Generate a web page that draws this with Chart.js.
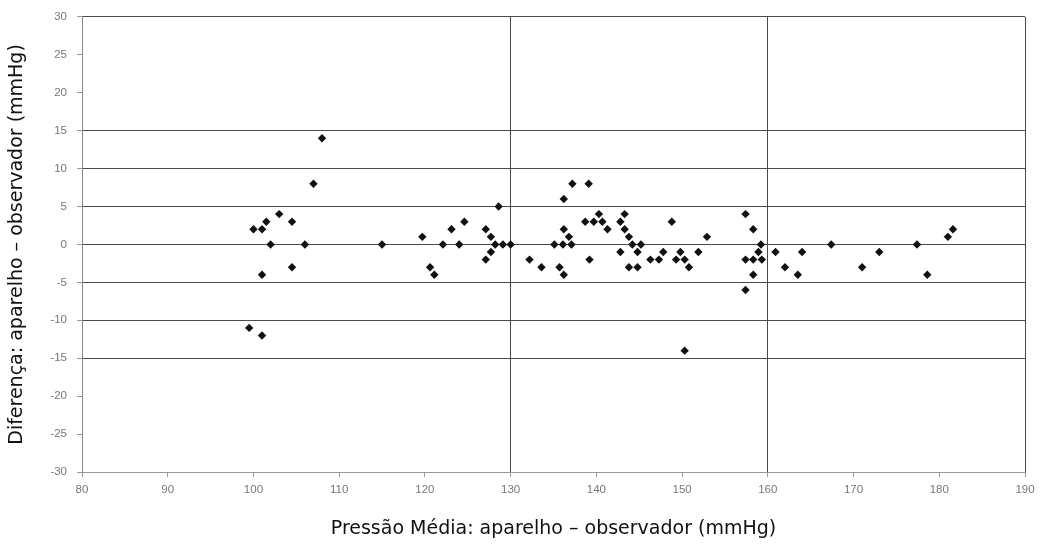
<!DOCTYPE html>
<html>
<head>
<meta charset="utf-8">
<script src="https://cdn.jsdelivr.net/npm/chart.js@4"></script>
<style>
  html, body { margin: 0; padding: 0; background: #fff; }
  #wrap { width: 1045px; height: 545px; }
</style>
</head>
<body>
<div id="wrap"><canvas id="chartCanvas" width="1045" height="545"></canvas></div>
<script>
// Pressão média (eixo x) e diferença aparelho - observador (eixo y)
const meanPressure = [
  99.5, 100, 101, 101, 101, 101.5, 102, 103, 104.5, 104.5, 106, 107, 108, 115,
  119.7, 120.6, 121.1, 122.1, 123.1, 124, 124.6, 127.1, 127.7, 128.2, 127.7, 127.1, 128.6, 129.1, 130, 132.2, 133.6,
  135.1, 136.1, 137.1, 136.2, 137.2, 139.1, 136.2, 136.8, 135.7, 136.2, 138.7, 139.2, 139.7, 140.3, 140.7, 141.3,
  142.8, 143.3, 143.3, 143.8, 144.2, 145.2, 142.8, 144.8, 143.8, 144.8, 146.3, 147.3, 147.8, 148.8, 149.3, 149.8,
  150.3, 150.8, 150.3, 151.9, 152.9,
  157.4, 158.3, 159.2, 158.9, 157.4, 158.3, 159.3, 158.3, 157.4, 160.9, 162, 163.5, 164,
  167.4, 171, 173, 177.4, 178.6, 181, 181.6
];
const difference = [
  -11, 2, 2, -4, -12, 3, 0, 4, 3, -3, 0, 8, 14, 0,
  1, -3, -4, 0, 2, 0, 3, 2, 1, 0, -1, -2, 5, 0, 0, -2, -3,
  0, 0, 0, 6, 8, 8, 2, 1, -3, -4, 3, -2, 3, 4, 3, 2,
  3, 4, 2, 1, 0, 0, -1, -1, -3, -3, -2, -2, -1, 3, -2, -1,
  -2, -3, -14, -1, 1,
  4, 2, 0, -1, -2, -2, -2, -4, -6, -1, -3, -4, -1,
  0, -3, -1, 0, -4, 1, 2
];

const xTitle = "Pressão Média: aparelho – observador (mmHg)";
const yTitle = "Diferença: aparelho – observador (mmHg)";

// linhas horizontais visíveis e linhas verticais visíveis
const yLines = [-15, -10, -5, 0, 5, 10, 15, 30];
const xLines = [130, 160, 190];

const points = meanPressure.map((x, i) => ({ x: x, y: difference[i] }));

const chart = new Chart(document.getElementById("chartCanvas"), {
  type: "scatter",
  data: {
    datasets: [{
      data: points,
      pointStyle: "rectRot",
      pointRadius: 4.2,
      backgroundColor: "#111",
      borderColor: "#111",
      borderWidth: 0
    }]
  },
  options: {
    responsive: false,
    animation: false,
    layout: { padding: { top: 14, right: 20, left: 0, bottom: 0 } },
    plugins: { legend: { display: false }, tooltip: { enabled: false } },
    scales: {
      x: {
        type: "linear",
        min: 80,
        max: 190,
        ticks: {
          stepSize: 10,
          padding: 6,
          color: "#777",
          font: { family: "Liberation Sans", size: 11.5 }
        },
        grid: {
          color: ctx => xLines.includes(ctx.tick.value) ? "#4a4a4a" : "rgba(0,0,0,0)",
          tickColor: "#999",
          tickLength: 5,
          lineWidth: 1
        },
        border: { color: "#999" },
        title: {
          display: true,
          text: xTitle,
          color: "#111",
          font: { family: "DejaVu Sans", size: 19 },
          padding: { top: 6, bottom: 5 }
        },
        afterFit: s => { s.height = 73; }
      },
      y: {
        type: "linear",
        min: -30,
        max: 30,
        ticks: {
          stepSize: 5,
          padding: 10,
          color: "#777",
          font: { family: "Liberation Sans", size: 11.5 }
        },
        grid: {
          color: ctx => yLines.includes(ctx.tick.value) ? "#4a4a4a" : "rgba(0,0,0,0)",
          tickColor: "#999",
          tickLength: 5,
          lineWidth: 1
        },
        border: { color: "#888" },
        title: {
          display: true,
          text: yTitle,
          color: "#111",
          font: { family: "DejaVu Sans", size: 19 },
          padding: { top: 6, bottom: 6 }
        },
        afterFit: s => { s.width = 82; }
      }
    }
  }
});
</script>
</body>
</html>
